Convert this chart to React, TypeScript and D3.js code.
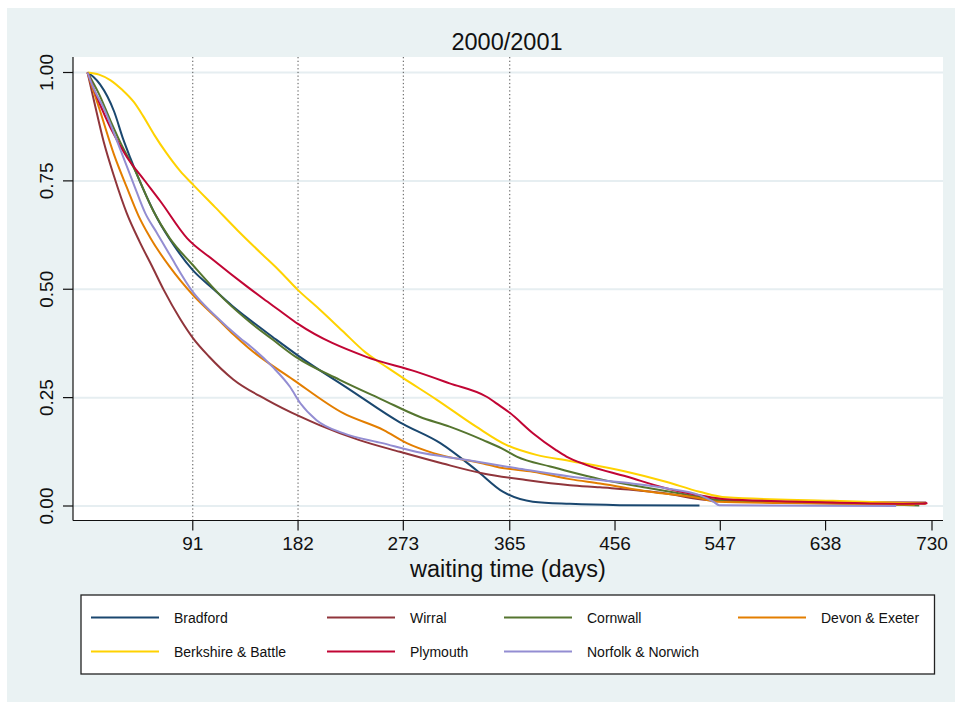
import React from "react";
import * as d3 from "d3";

type Pt = [number, number];

const xTicks = [91, 182, 273, 365, 456, 547, 638, 730];
const yTicks = [0, 0.25, 0.5, 0.75, 1];
const yTickLabels = ["0.00", "0.25", "0.50", "0.75", "1.00"];
const refLines = [91, 182, 273, 365];
const titleText = "2000/2001";
const xTitle = "waiting time (days)";

const seriesNames = [
  "Bradford",
  "Wirral",
  "Cornwall",
  "Devon & Exeter",
  "Berkshire & Battle",
  "Plymouth",
  "Norfolk & Norwich",
];
const seriesColors = [
  "#1a476f",
  "#90353b",
  "#55752f",
  "#e37e00",
  "#ffd200",
  "#c10534",
  "#938dd2",
];

const bradford: Pt[] = [
  [0, 1], [5, 0.99], [11, 0.972], [23, 0.91], [31, 0.845], [37, 0.803], [48, 0.732],
  [60, 0.665], [75, 0.6], [91, 0.544], [109, 0.5], [125, 0.462], [140, 0.43],
  [160, 0.39], [182, 0.347], [227, 0.268], [270, 0.193], [305, 0.145], [336, 0.083],
  [359, 0.033], [385, 0.01], [417, 0.005], [460, 0.002], [529, 0.001],
];
const wirral: Pt[] = [
  [0, 1], [6, 0.93], [14, 0.84], [23, 0.76], [34, 0.675], [45, 0.61], [56, 0.552],
  [66, 0.498], [80, 0.432], [91, 0.388], [105, 0.345], [126, 0.292], [155, 0.245],
  [184, 0.206], [201, 0.186], [235, 0.152], [270, 0.125], [307, 0.098], [342, 0.075],
  [379, 0.06], [417, 0.048], [443, 0.043], [500, 0.029], [535, 0.014], [600, 0.01],
  [725, 0.008],
];
const cornwall: Pt[] = [
  [0, 1], [10, 0.95], [20, 0.888], [30, 0.83], [40, 0.78], [57, 0.68], [71, 0.618],
  [91, 0.556], [120, 0.472], [140, 0.425], [160, 0.384], [180, 0.344], [218, 0.291],
  [255, 0.245], [287, 0.206], [313, 0.183], [342, 0.152], [358, 0.133], [371, 0.114],
  [400, 0.091], [417, 0.079], [443, 0.062], [486, 0.041], [529, 0.021], [544, 0.014],
  [600, 0.008], [673, 0.005], [719, 0.001],
];
const devon: Pt[] = [
  [0, 1], [3, 0.975], [11, 0.91], [23, 0.81], [34, 0.735], [44, 0.67], [54, 0.62],
  [71, 0.552], [91, 0.487], [115, 0.425], [126, 0.396], [139, 0.365], [178, 0.291],
  [221, 0.214], [256, 0.175], [276, 0.145], [299, 0.122], [342, 0.098], [356, 0.089],
  [385, 0.079], [417, 0.062], [443, 0.052], [486, 0.033], [529, 0.018], [544, 0.01],
  [600, 0.007], [715, 0.003],
];
const berkshire: Pt[] = [
  [0, 1], [10, 0.995], [20, 0.982], [30, 0.96], [40, 0.932], [48, 0.9], [58, 0.855],
  [68, 0.815], [80, 0.773], [91, 0.742], [110, 0.69], [130, 0.635], [150, 0.583],
  [165, 0.545], [182, 0.498], [200, 0.455], [220, 0.405], [240, 0.355], [260, 0.318],
  [273, 0.295], [302, 0.245], [336, 0.183], [362, 0.141], [388, 0.118], [417, 0.104],
  [466, 0.079], [500, 0.056], [529, 0.033], [552, 0.02], [644, 0.012], [725, 0.005],
];
const plymouth: Pt[] = [
  [0, 1], [5, 0.965], [11, 0.925], [20, 0.872], [34, 0.805], [49, 0.752], [63, 0.703],
  [86, 0.618], [109, 0.567], [138, 0.506], [152, 0.478], [166, 0.451], [182, 0.42],
  [241, 0.344], [284, 0.31], [313, 0.283], [345, 0.252], [356, 0.232], [365, 0.215],
  [385, 0.168], [405, 0.129], [414, 0.114], [431, 0.095], [466, 0.068], [500, 0.041],
  [529, 0.025], [552, 0.0155], [615, 0.01], [722, 0.005], [726, 0.007],
];
const norfolk: Pt[] = [
  [0, 1], [5, 0.965], [14, 0.918], [29, 0.818], [40, 0.742], [50, 0.675], [60, 0.63],
  [71, 0.58], [91, 0.494], [110, 0.44], [132, 0.387], [141, 0.368], [160, 0.321],
  [175, 0.275], [184, 0.237], [198, 0.198], [221, 0.168], [255, 0.145], [284, 0.125],
  [328, 0.106], [371, 0.087], [417, 0.068], [443, 0.06], [500, 0.041], [529, 0.025],
  [541, 0.01], [546, 0.002], [699, 0.0],
];

const seriesData: Pt[][] = [bradford, wirral, cornwall, devon, berkshire, plymouth, norfolk];

const FONT = "'Liberation Sans', Arial, Helvetica, sans-serif";

export default function App() {
  const W = 955;
  const H = 702;
  const plotL = 73;
  const plotR = 943;
  const plotT = 57;
  const plotB = 520.5;

  const x = d3.scaleLinear().domain([0, 730]).range([87.5, 932]);
  const y = d3.scaleLinear().domain([0, 1]).range([506, 72.5]);

  const line = d3
    .line<Pt>()
    .x((d) => x(d[0]))
    .y((d) => y(d[1]))
    .curve(d3.curveMonotoneX);

  const legendCols = [91, 327, 504, 738];
  const legendRows = [617.5, 651.5];

  return (
    <svg
      width={W}
      height={H}
      style={{ position: "absolute", left: 0, top: 0, display: "block" }}
      fontFamily={FONT}
    >
      <rect x={0} y={0} width={W} height={H} fill="#ffffff" />
      <rect x={7} y={8} width={W - 7} height={H - 8} fill="#eaf2f3" />
      <rect x={plotL} y={plotT} width={plotR - plotL} height={plotB - plotT} fill="#ffffff" />

      {yTicks.map((t) => (
        <line key={"g" + t} x1={plotL} x2={plotR} y1={y(t)} y2={y(t)} stroke="#e6eef1" strokeWidth={2} />
      ))}

      {refLines.map((r) => (
        <line
          key={"r" + r}
          x1={x(r)}
          x2={x(r)}
          y1={plotT}
          y2={plotB}
          stroke="#555"
          strokeWidth={1}
          strokeDasharray="1.3,2.4"
        />
      ))}

      {seriesData.map((s, i) => (
        <path key={seriesNames[i]} d={line(s) || ""} fill="none" stroke={seriesColors[i]} strokeWidth={2} strokeLinejoin="round" />
      ))}

      <line x1={plotL} x2={plotL} y1={plotT} y2={plotB} stroke="#111" strokeWidth={1.2} />
      <line x1={plotL} x2={plotR} y1={plotB} y2={plotB} stroke="#111" strokeWidth={1.2} />

      {yTicks.map((t, i) => (
        <g key={"yt" + t}>
          <line x1={63} x2={plotL} y1={y(t)} y2={y(t)} stroke="#111" strokeWidth={1.2} />
          <text
            transform={`translate(53,${y(t)}) rotate(-90)`}
            textAnchor="middle"
            fontSize={19}
            fill="#111"
          >
            {yTickLabels[i]}
          </text>
        </g>
      ))}

      {xTicks.map((t) => (
        <g key={"xt" + t}>
          <line x1={x(t)} x2={x(t)} y1={plotB} y2={plotB + 10} stroke="#111" strokeWidth={1.2} />
          <text x={x(t)} y={550} textAnchor="middle" fontSize={19} fill="#111">
            {t}
          </text>
        </g>
      ))}

      <text x={507} y={50} textAnchor="middle" fontSize={23.5} fill="#111">
        {titleText}
      </text>
      <text x={508} y={577} textAnchor="middle" fontSize={23.5} fill="#111">
        {xTitle}
      </text>

      <rect x={81} y={595} width={853.5} height={79} fill="#ffffff" stroke="#222" strokeWidth={1.3} />
      {seriesNames.map((n, i) => {
        const col = i % 4;
        const row = Math.floor(i / 4);
        const lx = legendCols[col];
        const ly = legendRows[row];
        return (
          <g key={"lg" + n}>
            <line x1={lx} x2={lx + 68} y1={ly} y2={ly} stroke={seriesColors[i]} strokeWidth={2} />
            <text x={lx + 83} y={ly + 5} fontSize={14} fill="#111">
              {n}
            </text>
          </g>
        );
      })}
    </svg>
  );
}
